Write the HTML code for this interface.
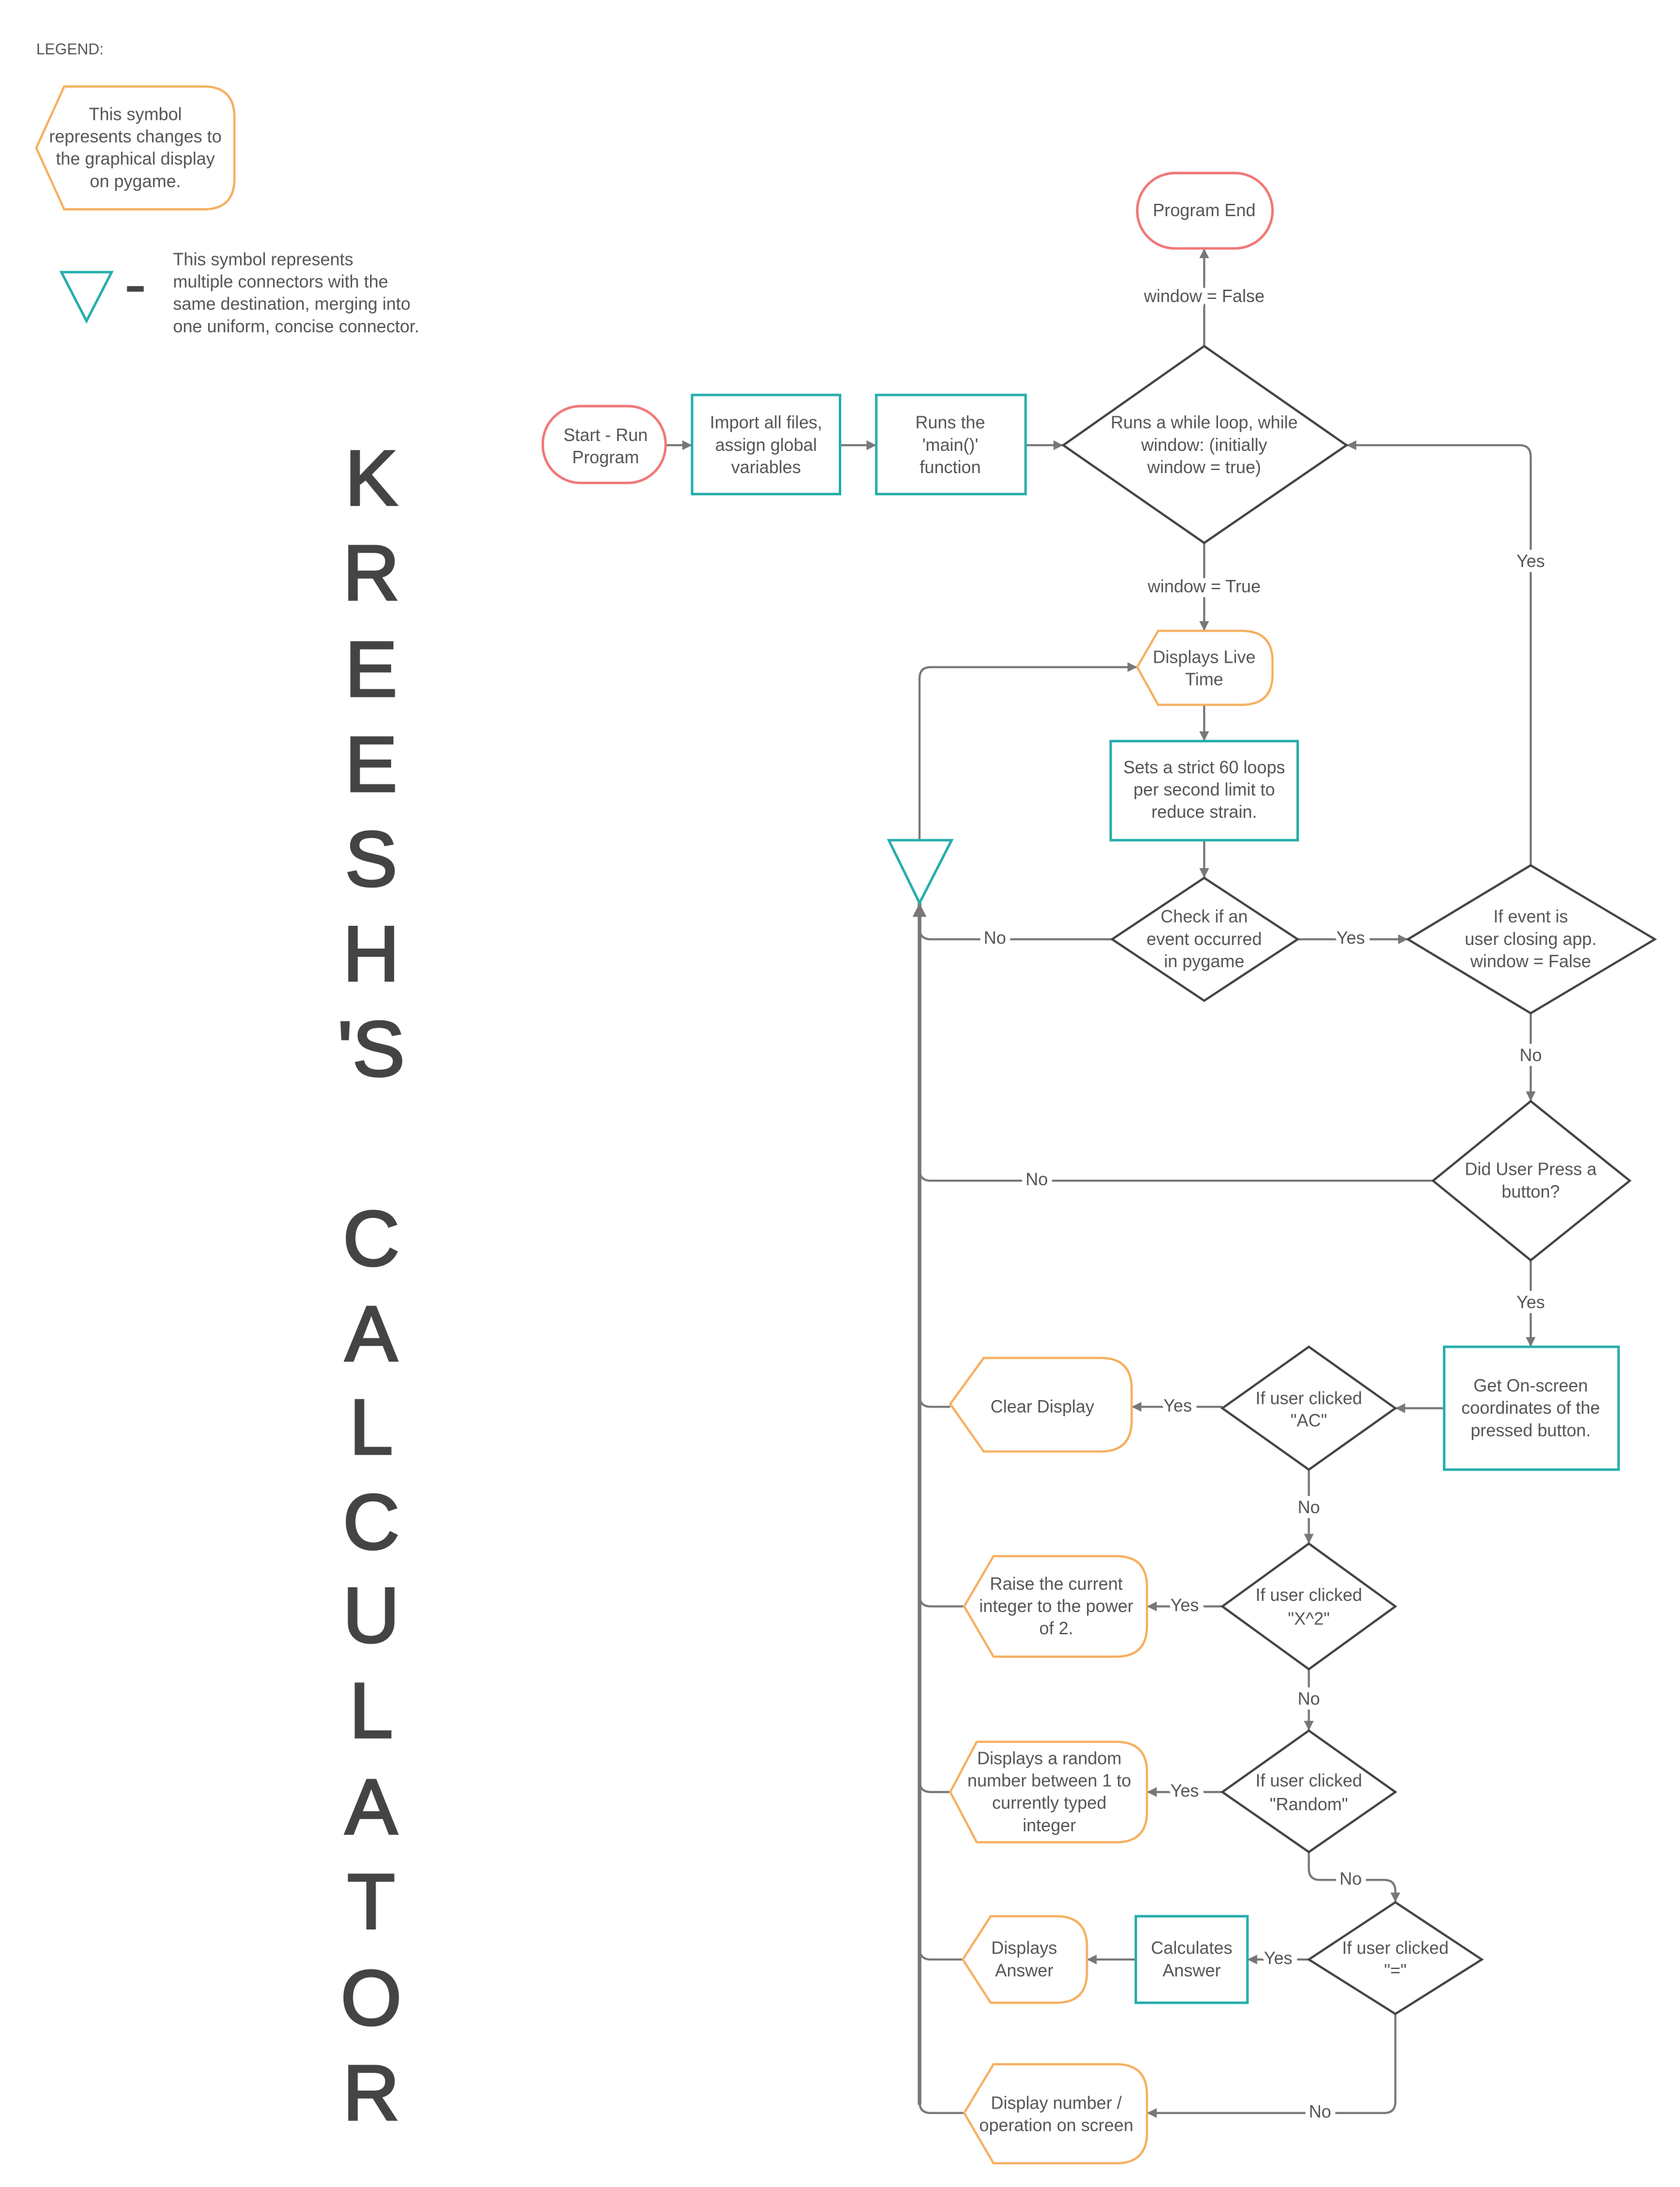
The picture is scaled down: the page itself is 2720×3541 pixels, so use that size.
<!DOCTYPE html>
<html><head><meta charset="utf-8"><style>
html,body{margin:0;padding:0;background:#fff}
svg{display:block}
text{font-family:"Liberation Sans",sans-serif;fill:#555;font-size:12.5px}
.c{text-anchor:middle}
.lbl{paint-order:stroke;stroke:#fff;stroke-width:7px;text-anchor:middle;dominant-baseline:middle}
.big{font-size:56px;font-weight:normal;fill:#444;stroke:#444;stroke-width:1.6px;text-anchor:middle;dominant-baseline:middle}
.ln{fill:none;stroke:#777;stroke-width:1.5}
.tr{fill:none;stroke:#777;stroke-width:2.6}
.dm{fill:#fff;stroke:#444;stroke-width:1.6}
.tl{fill:#fff;stroke:#26aeaa;stroke-width:1.8}
.or{fill:#fff;stroke:#f6b060;stroke-width:1.6}
.rd{fill:#fff;stroke:#f07878;stroke-width:1.8}
</style></head><body>
<svg width="2720" height="3541" viewBox="0 0 1204 1567" preserveAspectRatio="none" xmlns="http://www.w3.org/2000/svg">
<defs><marker id="a" viewBox="0 0 10 10" refX="10" refY="5" markerWidth="7" markerHeight="7" markerUnits="userSpaceOnUse" orient="auto"><path d="M0,0 L10,5 L0,10 z" fill="#777"/></marker>
<marker id="b" viewBox="0 0 10 10" refX="10" refY="5" markerWidth="10" markerHeight="10" markerUnits="userSpaceOnUse" orient="auto"><path d="M0,0 L10,5 L0,10 z" fill="#777"/></marker></defs>

<!-- legend -->
<text x="26" y="39" style="font-size:11px">LEGEND:</text>
<path class="or" d="M26,106 L46,62 H146 Q168,62 168,84 V128 Q168,150 146,150 H46 Z"/>
<text class="c" x="97" y="86">This symbol</text>
<text class="c" x="97" y="102">represents changes to</text>
<text class="c" x="97" y="118">the graphical display</text>
<text class="c" x="97" y="134">on pygame.</text>
<path class="tl" d="M44,195 H80 L62,230 Z"/>
<rect x="91" y="205" width="12" height="4" fill="#444"/>
<text x="124" y="190">This symbol represents</text>
<text x="124" y="206">multiple connectors with the</text>
<text x="124" y="222">same destination, merging into</text>
<text x="124" y="238">one uniform,  concise connector.</text>

<!-- title -->
<text class="big" x="266" y="347">K</text>
<text class="big" x="266" y="415">R</text>
<text class="big" x="266" y="484">E</text>
<text class="big" x="266" y="552">E</text>
<text class="big" x="266" y="620">S</text>
<text class="big" x="266" y="688">H</text>
<text class="big" x="266" y="756">'S</text>
<text class="big" x="266" y="892">C</text>
<text class="big" x="266" y="960">A</text>
<text class="big" x="266" y="1027">L</text>
<text class="big" x="266" y="1095">C</text>
<text class="big" x="266" y="1162">U</text>
<text class="big" x="266" y="1230">L</text>
<text class="big" x="266" y="1299">A</text>
<text class="big" x="266" y="1367">T</text>
<text class="big" x="266" y="1436">O</text>
<text class="big" x="266" y="1504">R</text>

<!-- connectors -->
<path class="ln" d="M477,319 H496" marker-end="url(#a)"/>
<path class="ln" d="M602,319 H628" marker-end="url(#a)"/>
<path class="ln" d="M735,319 H762" marker-end="url(#a)"/>
<path class="ln" d="M863,248 V178" marker-end="url(#a)"/>
<text class="lbl" x="863" y="213">window = False</text>
<path class="ln" d="M863,389 V452" marker-end="url(#a)"/>
<text class="lbl" x="863" y="421">window = True</text>
<path class="ln" d="M863,505 V531" marker-end="url(#a)"/>
<path class="ln" d="M863,602 V629" marker-end="url(#a)"/>
<path class="ln" d="M930,673 H1009" marker-end="url(#a)"/>
<text class="lbl" x="968" y="673">Yes</text>
<path class="ln" d="M1097,620 V327 Q1097,319 1089,319 H965" marker-end="url(#a)"/>
<text class="lbl" x="1097" y="403">Yes</text>
<path class="ln" d="M1097,726 V789" marker-end="url(#a)"/>
<text class="lbl" x="1097" y="757">No</text>
<path class="ln" d="M1097,903 V965" marker-end="url(#a)"/>
<text class="lbl" x="1097" y="934">Yes</text>
<path class="ln" d="M1035,1009 H1000" marker-end="url(#a)"/>
<path class="ln" d="M876,1008 H811" marker-end="url(#a)"/>
<text class="lbl" x="844" y="1008">Yes</text>
<path class="ln" d="M938,1053 V1106" marker-end="url(#a)"/>
<text class="lbl" x="938" y="1081">No</text>
<path class="ln" d="M876,1151 H822" marker-end="url(#a)"/>
<text class="lbl" x="849" y="1151">Yes</text>
<path class="ln" d="M938,1196 V1240" marker-end="url(#a)"/>
<text class="lbl" x="938" y="1218">No</text>
<path class="ln" d="M876,1284 H822" marker-end="url(#a)"/>
<text class="lbl" x="849" y="1284">Yes</text>
<path class="ln" d="M938,1327 V1339 Q938,1347 946,1347 H992 Q1000,1347 1000,1355 V1363" marker-end="url(#a)"/>
<text class="lbl" x="968" y="1347">No</text>
<path class="ln" d="M938,1404 H894" marker-end="url(#a)"/>
<text class="lbl" x="916" y="1404">Yes</text>
<path class="ln" d="M814,1404 H779" marker-end="url(#a)"/>
<path class="ln" d="M1000,1443 V1506 Q1000,1514 992,1514 H822" marker-end="url(#a)"/>
<text class="lbl" x="946" y="1514">No</text>

<!-- trunk and branches -->
<path class="ln" d="M797,673 H667 Q659,673 659,665"/>
<text class="lbl" x="713" y="673">No</text>
<path class="ln" d="M1027,846 H667 Q659,846 659,838"/>
<text class="lbl" x="743" y="846">No</text>
<path class="ln" d="M681,1008 H667 Q659,1008 659,1000"/>
<path class="ln" d="M691,1151 H667 Q659,1151 659,1143"/>
<path class="ln" d="M681,1284 H667 Q659,1284 659,1276"/>
<path class="ln" d="M690,1404 H667 Q659,1404 659,1396"/>
<path class="ln" d="M691,1514 H667 Q659,1514 659,1506"/>
<path class="tr" d="M659,1508 V647" marker-end="url(#b)"/>
<path class="ln" d="M659,602 V486 Q659,478 667,478 H815" marker-end="url(#a)"/>
<path class="tl" d="M637,602 H682 L659,647 Z"/>

<!-- nodes -->
<rect class="rd" x="389" y="291" width="88" height="55" rx="27"/>
<text class="c" x="434" y="316">Start - Run</text>
<text class="c" x="434" y="332">Program</text>
<rect class="tl" x="496" y="283" width="106" height="71"/>
<text class="c" x="549" y="307">Import all files,</text>
<text class="c" x="549" y="323">assign global</text>
<text class="c" x="549" y="339">variables</text>
<rect class="tl" x="628" y="283" width="107" height="71"/>
<text class="c" x="681" y="307">Runs the</text>
<text class="c" x="681" y="323">'main()'</text>
<text class="c" x="681" y="339">function</text>
<path class="dm" d="M863,248 L965,319 L863,389 L762,319 Z"/>
<text class="c" x="863" y="307">Runs a while loop, while</text>
<text class="c" x="863" y="323">window: (initially</text>
<text class="c" x="863" y="339">window = true)</text>
<rect class="rd" x="815" y="124" width="97" height="54" rx="27"/>
<text class="c" x="863" y="155">Program End</text>

<path class="or" d="M815,478 L830,452 H890 Q912,452 912,474 V483 Q912,505 890,505 H830 Z"/>
<text class="c" x="863" y="475">Displays Live</text>
<text class="c" x="863" y="491">Time</text>
<rect class="tl" x="796" y="531" width="134" height="71"/>
<text class="c" x="863" y="554">Sets a strict 60 loops</text>
<text class="c" x="863" y="570">per second limit to</text>
<text class="c" x="863" y="586">reduce strain.</text>
<path class="dm" d="M863,629 L930,673 L863,717 L797,673 Z"/>
<text class="c" x="863" y="661">Check if an</text>
<text class="c" x="863" y="677">event occurred</text>
<text class="c" x="863" y="693">in pygame</text>
<path class="dm" d="M1097,620 L1186,673 L1097,726 L1009,673 Z"/>
<text class="c" x="1097" y="661">If event is</text>
<text class="c" x="1097" y="677">user closing app.</text>
<text class="c" x="1097" y="693">window = False</text>
<path class="dm" d="M1097,789 L1168,846 L1097,903 L1027,846 Z"/>
<text class="c" x="1097" y="842">Did User Press a</text>
<text class="c" x="1097" y="858">button?</text>
<rect class="tl" x="1035" y="965" width="125" height="88"/>
<text class="c" x="1097" y="997">Get On-screen</text>
<text class="c" x="1097" y="1013">coordinates of the</text>
<text class="c" x="1097" y="1029">pressed button.</text>

<path class="dm" d="M938,965 L1000,1009 L938,1053 L876,1009 Z"/>
<text class="c" x="938" y="1006">If user clicked</text>
<text class="c" x="938" y="1022">"AC"</text>
<path class="or" d="M681,1006 L705,973 H789 Q811,973 811,995 V1018 Q811,1040 789,1040 H705 Z"/>
<text class="c" x="747" y="1012">Clear Display</text>

<path class="dm" d="M938,1106 L1000,1151 L938,1196 L876,1151 Z"/>
<text class="c" x="938" y="1147">If user clicked</text>
<text class="c" x="938" y="1164">"X^2"</text>
<path class="or" d="M691,1151 L712,1115 H800 Q822,1115 822,1137 V1165 Q822,1187 800,1187 H712 Z"/>
<text class="c" x="757" y="1139">Raise the current</text>
<text class="c" x="757" y="1155">integer to the power</text>
<text class="c" x="757" y="1171">of 2.</text>

<path class="dm" d="M938,1240 L1000,1284 L938,1327 L876,1284 Z"/>
<text class="c" x="938" y="1280">If user clicked</text>
<text class="c" x="938" y="1297">"Random"</text>
<path class="or" d="M681,1284 L700,1248 H800 Q822,1248 822,1270 V1298 Q822,1320 800,1320 H700 Z"/>
<text class="c" x="752" y="1264">Displays a random</text>
<text class="c" x="752" y="1280">number between 1 to</text>
<text class="c" x="752" y="1296">currently typed</text>
<text class="c" x="752" y="1312">integer</text>

<path class="dm" d="M1000,1363 L1062,1404 L1000,1443 L938,1404 Z"/>
<text class="c" x="1000" y="1400">If user clicked</text>
<text class="c" x="1000" y="1416">"="</text>
<rect class="tl" x="814" y="1373" width="80" height="62"/>
<text class="c" x="854" y="1400">Calculates</text>
<text class="c" x="854" y="1416">Answer</text>
<path class="or" d="M690,1404 L710,1373 H757 Q779,1373 779,1395 V1413 Q779,1435 757,1435 H710 Z"/>
<text class="c" x="734" y="1400">Displays</text>
<text class="c" x="734" y="1416">Answer</text>

<path class="or" d="M691,1514 L712,1479 H800 Q822,1479 822,1501 V1528 Q822,1550 800,1550 H712 Z"/>
<text class="c" x="757" y="1511">Display number /</text>
<text class="c" x="757" y="1527">operation on screen</text>
</svg>
</body></html>
